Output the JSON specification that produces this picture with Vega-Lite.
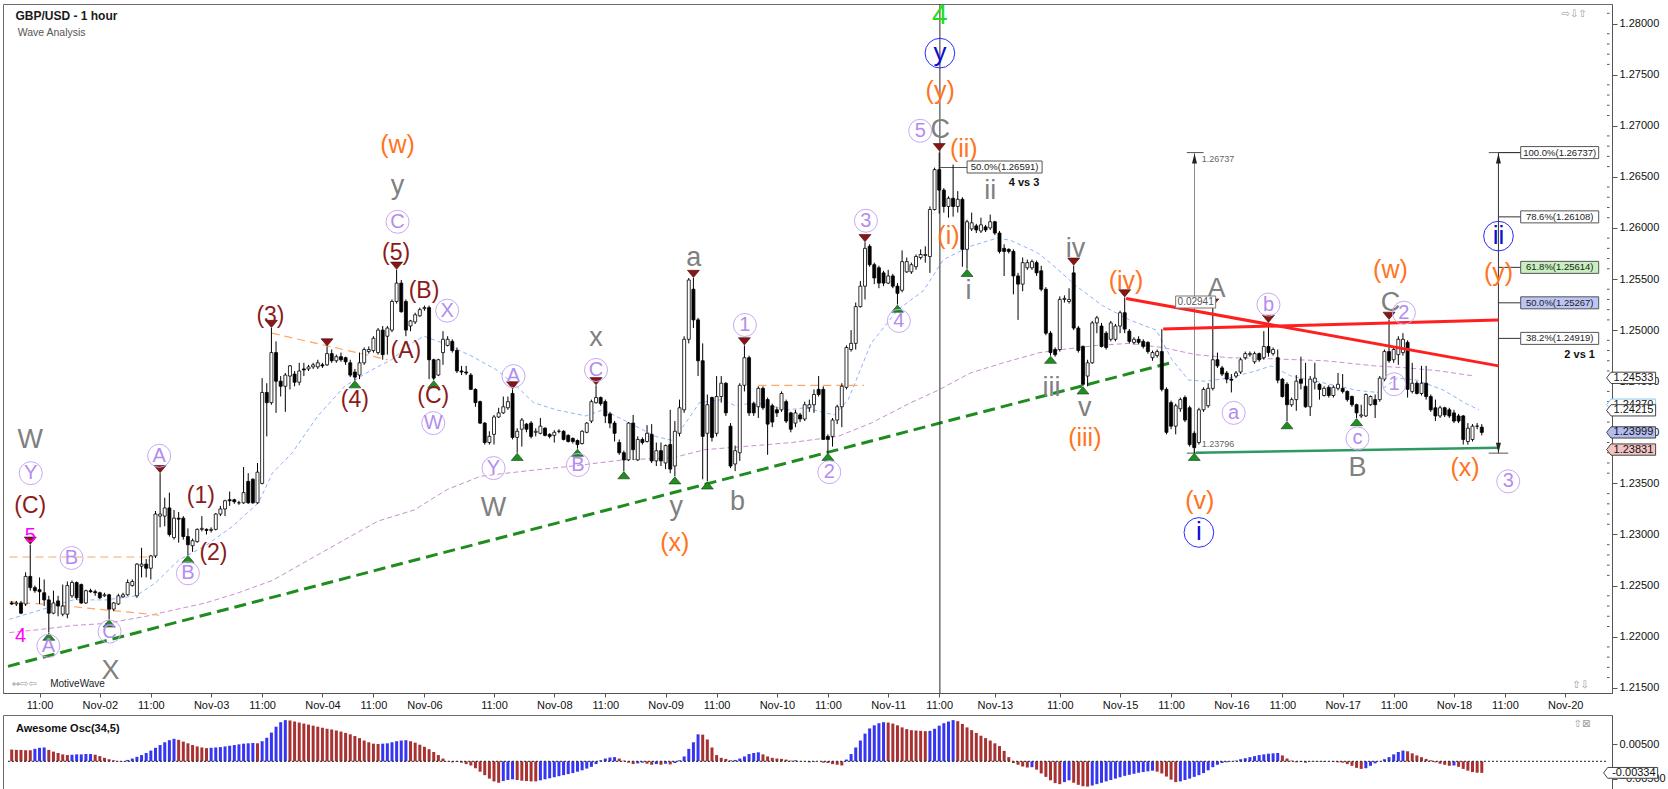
{
"$schema": "https://vega.github.io/schema/vega-lite/v6.json",
"padding": {"left": 1, "top": 1, "right": 0, "bottom": 0},
"background": "white",
"config": {"font": "Liberation Sans", "view": {"stroke": "#6b6b6b"}, "axis": {"labelFont": "Liberation Sans"}},
"datasets": {
"bars": [
{"i":1,"o":1.2233,"h":1.2235,"l":1.2231,"c":1.2232,"ao":0.0034,"u":0},
{"i":2,"o":1.2232,"h":1.2235,"l":1.2230,"c":1.2233,"ao":0.0033,"u":0},
{"i":3,"o":1.2233,"h":1.2235,"l":1.2222,"c":1.2223,"ao":0.0033,"u":0},
{"i":4,"o":1.2232,"h":1.2263,"l":1.2230,"c":1.2259,"ao":0.0032,"u":0},
{"i":5,"o":1.2259,"h":1.2290,"l":1.2245,"c":1.2248,"ao":0.0032,"u":0},
{"i":6,"o":1.2248,"h":1.2250,"l":1.2243,"c":1.2245,"ao":0.0036,"u":1},
{"i":7,"o":1.2246,"h":1.2258,"l":1.2232,"c":1.2244,"ao":0.0039,"u":1},
{"i":8,"o":1.2243,"h":1.2256,"l":1.2230,"c":1.2236,"ao":0.0040,"u":1},
{"i":9,"o":1.2236,"h":1.2240,"l":1.2204,"c":1.2223,"ao":0.0033,"u":0},
{"i":10,"o":1.2223,"h":1.2245,"l":1.2222,"c":1.2233,"ao":0.0028,"u":0},
{"i":11,"o":1.2235,"h":1.2240,"l":1.2220,"c":1.2230,"ao":0.0024,"u":0},
{"i":12,"o":1.2222,"h":1.2251,"l":1.2220,"c":1.2230,"ao":0.0020,"u":0},
{"i":13,"o":1.2222,"h":1.2254,"l":1.2218,"c":1.2250,"ao":0.0018,"u":0},
{"i":14,"o":1.2240,"h":1.2255,"l":1.2238,"c":1.2253,"ao":0.0019,"u":1},
{"i":15,"o":1.2253,"h":1.2254,"l":1.2236,"c":1.2238,"ao":0.0020,"u":1},
{"i":16,"o":1.2251,"h":1.2252,"l":1.2232,"c":1.2233,"ao":0.0020,"u":1},
{"i":17,"o":1.2233,"h":1.2246,"l":1.2232,"c":1.2245,"ao":0.0021,"u":1},
{"i":18,"o":1.2245,"h":1.2247,"l":1.2243,"c":1.2244,"ao":0.0021,"u":1},
{"i":19,"o":1.2244,"h":1.2246,"l":1.2240,"c":1.2243,"ao":0.0019,"u":0},
{"i":20,"o":1.2243,"h":1.2244,"l":1.2237,"c":1.2238,"ao":0.0015,"u":0},
{"i":21,"o":1.2240,"h":1.2243,"l":1.2239,"c":1.2241,"ao":0.0010,"u":0},
{"i":22,"o":1.2241,"h":1.2242,"l":1.2217,"c":1.2227,"ao":0.0006,"u":0},
{"i":23,"o":1.2227,"h":1.2234,"l":1.2225,"c":1.2233,"ao":0.0003,"u":0},
{"i":24,"o":1.2232,"h":1.2242,"l":1.2231,"c":1.2240,"ao":0.0001,"u":0},
{"i":25,"o":1.2239,"h":1.2243,"l":1.2238,"c":1.2241,"ao":-0.0001,"u":0},
{"i":26,"o":1.2241,"h":1.2256,"l":1.2240,"c":1.2253,"ao":0.0004,"u":1},
{"i":27,"o":1.2250,"h":1.2256,"l":1.2249,"c":1.2254,"ao":0.0008,"u":1},
{"i":28,"o":1.2240,"h":1.2272,"l":1.2238,"c":1.2271,"ao":0.0013,"u":1},
{"i":29,"o":1.2269,"h":1.2287,"l":1.2258,"c":1.2271,"ao":0.0018,"u":1},
{"i":30,"o":1.2271,"h":1.2276,"l":1.2258,"c":1.2267,"ao":0.0024,"u":1},
{"i":31,"o":1.2267,"h":1.2280,"l":1.2256,"c":1.2279,"ao":0.0031,"u":1},
{"i":32,"o":1.2279,"h":1.2323,"l":1.2277,"c":1.2320,"ao":0.0039,"u":1},
{"i":33,"o":1.2318,"h":1.2360,"l":1.2307,"c":1.2320,"ao":0.0047,"u":1},
{"i":34,"o":1.2318,"h":1.2336,"l":1.2308,"c":1.2326,"ao":0.0055,"u":1},
{"i":35,"o":1.2326,"h":1.2341,"l":1.2298,"c":1.2300,"ao":0.0061,"u":1},
{"i":36,"o":1.2297,"h":1.2324,"l":1.2295,"c":1.2316,"ao":0.0065,"u":1},
{"i":37,"o":1.2316,"h":1.2322,"l":1.2292,"c":1.2315,"ao":0.0062,"u":0},
{"i":38,"o":1.2316,"h":1.2318,"l":1.2295,"c":1.2298,"ao":0.0057,"u":0},
{"i":39,"o":1.2298,"h":1.2306,"l":1.2280,"c":1.2290,"ao":0.0052,"u":0},
{"i":40,"o":1.2289,"h":1.2296,"l":1.2283,"c":1.2294,"ao":0.0047,"u":0},
{"i":41,"o":1.2293,"h":1.2306,"l":1.2292,"c":1.2305,"ao":0.0043,"u":0},
{"i":42,"o":1.2305,"h":1.2318,"l":1.2303,"c":1.2306,"ao":0.0040,"u":0},
{"i":43,"o":1.2305,"h":1.2306,"l":1.2300,"c":1.2304,"ao":0.0038,"u":0},
{"i":44,"o":1.2304,"h":1.2307,"l":1.2302,"c":1.2305,"ao":0.0039,"u":1},
{"i":45,"o":1.2305,"h":1.2321,"l":1.2304,"c":1.2320,"ao":0.0040,"u":1},
{"i":46,"o":1.2320,"h":1.2328,"l":1.2318,"c":1.2325,"ao":0.0041,"u":1},
{"i":47,"o":1.2325,"h":1.2334,"l":1.2318,"c":1.2333,"ao":0.0043,"u":1},
{"i":48,"o":1.2334,"h":1.2342,"l":1.2328,"c":1.2333,"ao":0.0045,"u":1},
{"i":49,"o":1.2334,"h":1.2335,"l":1.2330,"c":1.2332,"ao":0.0047,"u":1},
{"i":50,"o":1.2331,"h":1.2333,"l":1.2329,"c":1.2331,"ao":0.0049,"u":1},
{"i":51,"o":1.2331,"h":1.2366,"l":1.2330,"c":1.2341,"ao":0.0051,"u":1},
{"i":52,"o":1.2352,"h":1.2360,"l":1.2330,"c":1.2331,"ao":0.0052,"u":1},
{"i":53,"o":1.2354,"h":1.2355,"l":1.2330,"c":1.2331,"ao":0.0053,"u":1},
{"i":54,"o":1.2331,"h":1.2370,"l":1.2330,"c":1.2361,"ao":0.0052,"u":0},
{"i":55,"o":1.2350,"h":1.2453,"l":1.2349,"c":1.2439,"ao":0.0058,"u":1},
{"i":56,"o":1.2439,"h":1.2448,"l":1.2396,"c":1.2429,"ao":0.0068,"u":1},
{"i":57,"o":1.2429,"h":1.2502,"l":1.2427,"c":1.2478,"ao":0.0083,"u":1},
{"i":58,"o":1.2478,"h":1.2489,"l":1.2419,"c":1.2450,"ao":0.0100,"u":1},
{"i":59,"o":1.2450,"h":1.2455,"l":1.2435,"c":1.2445,"ao":0.0113,"u":1},
{"i":60,"o":1.2445,"h":1.2458,"l":1.2420,"c":1.2456,"ao":0.0119,"u":1},
{"i":61,"o":1.2455,"h":1.2466,"l":1.2442,"c":1.2465,"ao":0.0118,"u":0},
{"i":62,"o":1.2457,"h":1.2460,"l":1.2445,"c":1.2449,"ao":0.0115,"u":0},
{"i":63,"o":1.2449,"h":1.2468,"l":1.2446,"c":1.2460,"ao":0.0112,"u":0},
{"i":64,"o":1.2462,"h":1.2468,"l":1.2455,"c":1.2461,"ao":0.0109,"u":0},
{"i":65,"o":1.2462,"h":1.2466,"l":1.2460,"c":1.2464,"ao":0.0106,"u":0},
{"i":66,"o":1.2464,"h":1.2468,"l":1.2462,"c":1.2466,"ao":0.0103,"u":0},
{"i":67,"o":1.2464,"h":1.2471,"l":1.2462,"c":1.2468,"ao":0.0100,"u":0},
{"i":68,"o":1.2466,"h":1.2468,"l":1.2463,"c":1.2465,"ao":0.0097,"u":0},
{"i":69,"o":1.2466,"h":1.2484,"l":1.2465,"c":1.2477,"ao":0.0094,"u":0},
{"i":70,"o":1.2477,"h":1.2481,"l":1.2468,"c":1.2470,"ao":0.0092,"u":0},
{"i":71,"o":1.2470,"h":1.2476,"l":1.2468,"c":1.2474,"ao":0.0089,"u":0},
{"i":72,"o":1.2474,"h":1.2478,"l":1.2469,"c":1.2471,"ao":0.0086,"u":0},
{"i":73,"o":1.2473,"h":1.2474,"l":1.2466,"c":1.2469,"ao":0.0082,"u":0},
{"i":74,"o":1.2468,"h":1.2471,"l":1.2454,"c":1.2456,"ao":0.0078,"u":0},
{"i":75,"o":1.2459,"h":1.2462,"l":1.2451,"c":1.2454,"ao":0.0073,"u":0},
{"i":76,"o":1.2456,"h":1.2478,"l":1.2452,"c":1.2468,"ao":0.0067,"u":0},
{"i":77,"o":1.2468,"h":1.2483,"l":1.2466,"c":1.2481,"ao":0.0060,"u":0},
{"i":78,"o":1.2479,"h":1.2484,"l":1.2477,"c":1.2481,"ao":0.0055,"u":0},
{"i":79,"o":1.2480,"h":1.2494,"l":1.2478,"c":1.2492,"ao":0.0051,"u":0},
{"i":80,"o":1.2478,"h":1.2502,"l":1.2476,"c":1.2500,"ao":0.0050,"u":0},
{"i":81,"o":1.2500,"h":1.2504,"l":1.2471,"c":1.2476,"ao":0.0051,"u":1},
{"i":82,"o":1.2494,"h":1.2504,"l":1.2476,"c":1.2502,"ao":0.0052,"u":1},
{"i":83,"o":1.2500,"h":1.2530,"l":1.2498,"c":1.2528,"ao":0.0055,"u":1},
{"i":84,"o":1.2528,"h":1.2559,"l":1.2526,"c":1.2546,"ao":0.0058,"u":1},
{"i":85,"o":1.2546,"h":1.2549,"l":1.2517,"c":1.2518,"ao":0.0060,"u":1},
{"i":86,"o":1.2528,"h":1.2530,"l":1.2494,"c":1.2500,"ao":0.0061,"u":1},
{"i":87,"o":1.2504,"h":1.2510,"l":1.2499,"c":1.2509,"ao":0.0058,"u":0},
{"i":88,"o":1.2508,"h":1.2517,"l":1.2506,"c":1.2515,"ao":0.0054,"u":0},
{"i":89,"o":1.2514,"h":1.2522,"l":1.2513,"c":1.2520,"ao":0.0048,"u":0},
{"i":90,"o":1.2521,"h":1.2524,"l":1.2519,"c":1.2522,"ao":0.0042,"u":0},
{"i":91,"o":1.2522,"h":1.2524,"l":1.2452,"c":1.2471,"ao":0.0035,"u":0},
{"i":92,"o":1.2471,"h":1.2472,"l":1.2451,"c":1.2453,"ao":0.0027,"u":0},
{"i":93,"o":1.2456,"h":1.2472,"l":1.2455,"c":1.2471,"ao":0.0018,"u":0},
{"i":94,"o":1.2478,"h":1.2499,"l":1.2466,"c":1.2491,"ao":0.0008,"u":0},
{"i":95,"o":1.2485,"h":1.2494,"l":1.2484,"c":1.2491,"ao":0.0001,"u":0},
{"i":96,"o":1.2489,"h":1.2491,"l":1.2478,"c":1.2480,"ao":-0.0003,"u":0},
{"i":97,"o":1.2480,"h":1.2483,"l":1.2458,"c":1.2460,"ao":-0.0002,"u":1},
{"i":98,"o":1.2460,"h":1.2465,"l":1.2456,"c":1.2459,"ao":-0.0004,"u":0},
{"i":99,"o":1.2459,"h":1.2465,"l":1.2456,"c":1.2458,"ao":-0.0008,"u":0},
{"i":100,"o":1.2456,"h":1.2458,"l":1.2442,"c":1.2442,"ao":-0.0012,"u":0},
{"i":101,"o":1.2442,"h":1.2443,"l":1.2425,"c":1.2429,"ao":-0.0020,"u":0},
{"i":102,"o":1.2430,"h":1.2431,"l":1.2408,"c":1.2409,"ao":-0.0030,"u":0},
{"i":103,"o":1.2409,"h":1.2410,"l":1.2388,"c":1.2390,"ao":-0.0040,"u":0},
{"i":104,"o":1.2390,"h":1.2401,"l":1.2388,"c":1.2396,"ao":-0.0050,"u":0},
{"i":105,"o":1.2398,"h":1.2417,"l":1.2388,"c":1.2415,"ao":-0.0058,"u":0},
{"i":106,"o":1.2415,"h":1.2424,"l":1.2414,"c":1.2419,"ao":-0.0062,"u":0},
{"i":107,"o":1.2419,"h":1.2435,"l":1.2418,"c":1.2425,"ao":-0.0057,"u":1},
{"i":108,"o":1.2424,"h":1.2435,"l":1.2422,"c":1.2430,"ao":-0.0054,"u":1},
{"i":109,"o":1.2438,"h":1.2442,"l":1.2393,"c":1.2395,"ao":-0.0052,"u":1},
{"i":110,"o":1.2395,"h":1.2404,"l":1.2380,"c":1.2401,"ao":-0.0054,"u":0},
{"i":111,"o":1.2403,"h":1.2414,"l":1.2386,"c":1.2412,"ao":-0.0056,"u":0},
{"i":112,"o":1.2408,"h":1.2409,"l":1.2400,"c":1.2403,"ao":-0.0057,"u":0},
{"i":113,"o":1.2409,"h":1.2411,"l":1.2394,"c":1.2396,"ao":-0.0058,"u":0},
{"i":114,"o":1.2400,"h":1.2404,"l":1.2396,"c":1.2401,"ao":-0.0058,"u":0},
{"i":115,"o":1.2399,"h":1.2414,"l":1.2398,"c":1.2406,"ao":-0.0055,"u":1},
{"i":116,"o":1.2404,"h":1.2405,"l":1.2396,"c":1.2397,"ao":-0.0052,"u":1},
{"i":117,"o":1.2398,"h":1.2399,"l":1.2394,"c":1.2396,"ao":-0.0049,"u":1},
{"i":118,"o":1.2397,"h":1.2402,"l":1.2390,"c":1.2400,"ao":-0.0046,"u":1},
{"i":119,"o":1.2401,"h":1.2403,"l":1.2399,"c":1.2401,"ao":-0.0043,"u":1},
{"i":120,"o":1.2401,"h":1.2402,"l":1.2392,"c":1.2393,"ao":-0.0040,"u":1},
{"i":121,"o":1.2397,"h":1.2398,"l":1.2390,"c":1.2391,"ao":-0.0037,"u":1},
{"i":122,"o":1.2394,"h":1.2395,"l":1.2389,"c":1.2391,"ao":-0.0034,"u":1},
{"i":123,"o":1.2392,"h":1.2393,"l":1.2384,"c":1.2388,"ao":-0.0030,"u":1},
{"i":124,"o":1.2389,"h":1.2402,"l":1.2388,"c":1.2401,"ao":-0.0026,"u":1},
{"i":125,"o":1.2400,"h":1.2410,"l":1.2399,"c":1.2409,"ao":-0.0021,"u":1},
{"i":126,"o":1.2411,"h":1.2432,"l":1.2409,"c":1.2430,"ao":-0.0016,"u":1},
{"i":127,"o":1.2429,"h":1.2446,"l":1.2428,"c":1.2434,"ao":-0.0008,"u":1},
{"i":128,"o":1.2434,"h":1.2435,"l":1.2426,"c":1.2428,"ao":0.0003,"u":1},
{"i":129,"o":1.2430,"h":1.2432,"l":1.2409,"c":1.2416,"ao":0.0008,"u":1},
{"i":130,"o":1.2418,"h":1.2420,"l":1.2404,"c":1.2409,"ao":0.0011,"u":1},
{"i":131,"o":1.2409,"h":1.2411,"l":1.2391,"c":1.2399,"ao":0.0012,"u":1},
{"i":132,"o":1.2390,"h":1.2393,"l":1.2378,"c":1.2380,"ao":0.0008,"u":0},
{"i":133,"o":1.2380,"h":1.2382,"l":1.2362,"c":1.2373,"ao":0.0002,"u":0},
{"i":134,"o":1.2373,"h":1.2410,"l":1.2372,"c":1.2409,"ao":-0.0004,"u":0},
{"i":135,"o":1.2409,"h":1.2417,"l":1.2373,"c":1.2383,"ao":-0.0008,"u":0},
{"i":136,"o":1.2373,"h":1.2396,"l":1.2372,"c":1.2393,"ao":-0.0006,"u":1},
{"i":137,"o":1.2393,"h":1.2395,"l":1.2388,"c":1.2390,"ao":-0.0004,"u":1},
{"i":138,"o":1.2391,"h":1.2407,"l":1.2390,"c":1.2399,"ao":-0.0007,"u":0},
{"i":139,"o":1.2398,"h":1.2408,"l":1.2370,"c":1.2372,"ao":-0.0010,"u":0},
{"i":140,"o":1.2372,"h":1.2390,"l":1.2367,"c":1.2382,"ao":-0.0008,"u":1},
{"i":141,"o":1.2382,"h":1.2390,"l":1.2367,"c":1.2372,"ao":-0.0010,"u":0},
{"i":142,"o":1.2370,"h":1.2388,"l":1.2364,"c":1.2387,"ao":-0.0007,"u":1},
{"i":143,"o":1.2388,"h":1.2422,"l":1.2360,"c":1.2364,"ao":-0.0009,"u":0},
{"i":144,"o":1.2367,"h":1.2411,"l":1.2357,"c":1.2401,"ao":-0.0005,"u":1},
{"i":145,"o":1.2399,"h":1.2432,"l":1.2396,"c":1.2424,"ao":0.0003,"u":1},
{"i":146,"o":1.2422,"h":1.2494,"l":1.2419,"c":1.2491,"ao":0.0014,"u":1},
{"i":147,"o":1.2491,"h":1.2551,"l":1.2487,"c":1.2549,"ao":0.0036,"u":1},
{"i":148,"o":1.2540,"h":1.2551,"l":1.2502,"c":1.2510,"ao":0.0055,"u":1},
{"i":149,"o":1.2510,"h":1.2512,"l":1.2455,"c":1.2470,"ao":0.0078,"u":1},
{"i":150,"o":1.2470,"h":1.2487,"l":1.2354,"c":1.2396,"ao":0.0077,"u":0},
{"i":151,"o":1.2399,"h":1.2437,"l":1.2352,"c":1.2427,"ao":0.0063,"u":0},
{"i":152,"o":1.2434,"h":1.2435,"l":1.2391,"c":1.2395,"ao":0.0040,"u":0},
{"i":153,"o":1.2399,"h":1.2455,"l":1.2396,"c":1.2435,"ao":0.0018,"u":0},
{"i":154,"o":1.2435,"h":1.2455,"l":1.2429,"c":1.2448,"ao":0.0010,"u":0},
{"i":155,"o":1.2448,"h":1.2449,"l":1.2416,"c":1.2419,"ao":0.0007,"u":0},
{"i":156,"o":1.2406,"h":1.2409,"l":1.2365,"c":1.2367,"ao":0.0003,"u":0},
{"i":157,"o":1.2369,"h":1.2387,"l":1.2362,"c":1.2382,"ao":0.0004,"u":1},
{"i":158,"o":1.2380,"h":1.2448,"l":1.2372,"c":1.2446,"ao":0.0008,"u":1},
{"i":159,"o":1.2446,"h":1.2485,"l":1.2440,"c":1.2473,"ao":0.0014,"u":1},
{"i":160,"o":1.2473,"h":1.2475,"l":1.2416,"c":1.2419,"ao":0.0021,"u":1},
{"i":161,"o":1.2428,"h":1.2430,"l":1.2416,"c":1.2419,"ao":0.0024,"u":1},
{"i":162,"o":1.2425,"h":1.2445,"l":1.2414,"c":1.2443,"ao":0.0026,"u":1},
{"i":163,"o":1.2443,"h":1.2445,"l":1.2422,"c":1.2424,"ao":0.0020,"u":0},
{"i":164,"o":1.2432,"h":1.2434,"l":1.2378,"c":1.2408,"ao":0.0014,"u":0},
{"i":165,"o":1.2426,"h":1.2428,"l":1.2405,"c":1.2410,"ao":0.0010,"u":0},
{"i":166,"o":1.2422,"h":1.2425,"l":1.2415,"c":1.2419,"ao":0.0008,"u":0},
{"i":167,"o":1.2422,"h":1.2440,"l":1.2420,"c":1.2438,"ao":0.0007,"u":0},
{"i":168,"o":1.2430,"h":1.2432,"l":1.2409,"c":1.2411,"ao":0.0005,"u":0},
{"i":169,"o":1.2419,"h":1.2420,"l":1.2400,"c":1.2403,"ao":0.0002,"u":0},
{"i":170,"o":1.2409,"h":1.2422,"l":1.2405,"c":1.2419,"ao":0.0003,"u":1},
{"i":171,"o":1.2417,"h":1.2419,"l":1.2410,"c":1.2413,"ao":0.0001,"u":0},
{"i":172,"o":1.2413,"h":1.2430,"l":1.2411,"c":1.2427,"ao":-0.0001,"u":0},
{"i":173,"o":1.2424,"h":1.2432,"l":1.2420,"c":1.2427,"ao":-0.0003,"u":0},
{"i":174,"o":1.2427,"h":1.2442,"l":1.2419,"c":1.2437,"ao":-0.0002,"u":1},
{"i":175,"o":1.2442,"h":1.2455,"l":1.2435,"c":1.2437,"ao":0.0000,"u":1},
{"i":176,"o":1.2442,"h":1.2445,"l":1.2393,"c":1.2393,"ao":-0.0004,"u":0},
{"i":177,"o":1.2396,"h":1.2398,"l":1.2380,"c":1.2393,"ao":-0.0005,"u":0},
{"i":178,"o":1.2396,"h":1.2414,"l":1.2386,"c":1.2412,"ao":-0.0008,"u":0},
{"i":179,"o":1.2412,"h":1.2427,"l":1.2408,"c":1.2425,"ao":-0.0010,"u":0},
{"i":180,"o":1.2425,"h":1.2448,"l":1.2405,"c":1.2445,"ao":-0.0012,"u":0},
{"i":181,"o":1.2444,"h":1.2485,"l":1.2442,"c":1.2483,"ao":0.0005,"u":1},
{"i":182,"o":1.2481,"h":1.2500,"l":1.2479,"c":1.2487,"ao":0.0021,"u":1},
{"i":183,"o":1.2487,"h":1.2527,"l":1.2481,"c":1.2523,"ao":0.0040,"u":1},
{"i":184,"o":1.2523,"h":1.2548,"l":1.2522,"c":1.2543,"ao":0.0060,"u":1},
{"i":185,"o":1.2543,"h":1.2586,"l":1.2530,"c":1.2580,"ao":0.0080,"u":1},
{"i":186,"o":1.2582,"h":1.2584,"l":1.2562,"c":1.2564,"ao":0.0095,"u":1},
{"i":187,"o":1.2564,"h":1.2566,"l":1.2545,"c":1.2551,"ao":0.0104,"u":1},
{"i":188,"o":1.2561,"h":1.2563,"l":1.2541,"c":1.2546,"ao":0.0110,"u":1},
{"i":189,"o":1.2556,"h":1.2558,"l":1.2543,"c":1.2546,"ao":0.0113,"u":1},
{"i":190,"o":1.2546,"h":1.2559,"l":1.2545,"c":1.2553,"ao":0.0112,"u":0},
{"i":191,"o":1.2553,"h":1.2555,"l":1.2541,"c":1.2543,"ao":0.0109,"u":0},
{"i":192,"o":1.2543,"h":1.2546,"l":1.2525,"c":1.2536,"ao":0.0104,"u":0},
{"i":193,"o":1.2539,"h":1.2578,"l":1.2537,"c":1.2567,"ao":0.0098,"u":0},
{"i":194,"o":1.2557,"h":1.2571,"l":1.2556,"c":1.2567,"ao":0.0093,"u":0},
{"i":195,"o":1.2557,"h":1.2566,"l":1.2555,"c":1.2564,"ao":0.0090,"u":0},
{"i":196,"o":1.2562,"h":1.2574,"l":1.2559,"c":1.2572,"ao":0.0089,"u":0},
{"i":197,"o":1.2571,"h":1.2579,"l":1.2569,"c":1.2574,"ao":0.0088,"u":0},
{"i":198,"o":1.2573,"h":1.2582,"l":1.2566,"c":1.2574,"ao":0.0087,"u":0},
{"i":199,"o":1.2572,"h":1.2621,"l":1.2556,"c":1.2618,"ao":0.0088,"u":1},
{"i":200,"o":1.2618,"h":1.2659,"l":1.2617,"c":1.2657,"ao":0.0094,"u":1},
{"i":201,"o":1.2657,"h":1.26737,"l":1.2614,"c":1.2637,"ao":0.0103,"u":1},
{"i":202,"o":1.2637,"h":1.2639,"l":1.2615,"c":1.2621,"ao":0.0110,"u":1},
{"i":203,"o":1.2621,"h":1.2631,"l":1.2610,"c":1.2629,"ao":0.0115,"u":1},
{"i":204,"o":1.2629,"h":1.2662,"l":1.2611,"c":1.2621,"ao":0.0119,"u":1},
{"i":205,"o":1.2621,"h":1.2636,"l":1.2615,"c":1.2628,"ao":0.0116,"u":0},
{"i":206,"o":1.2628,"h":1.2630,"l":1.2562,"c":1.2579,"ao":0.0108,"u":0},
{"i":207,"o":1.2579,"h":1.2608,"l":1.2560,"c":1.2606,"ao":0.0098,"u":0},
{"i":208,"o":1.2599,"h":1.2615,"l":1.2597,"c":1.2605,"ao":0.0090,"u":0},
{"i":209,"o":1.2602,"h":1.2604,"l":1.2595,"c":1.2598,"ao":0.0082,"u":0},
{"i":210,"o":1.2597,"h":1.2610,"l":1.2595,"c":1.2603,"ao":0.0074,"u":0},
{"i":211,"o":1.2601,"h":1.2603,"l":1.2596,"c":1.2598,"ao":0.0067,"u":0},
{"i":212,"o":1.2600,"h":1.2613,"l":1.2598,"c":1.2606,"ao":0.0060,"u":0},
{"i":213,"o":1.2606,"h":1.2607,"l":1.2593,"c":1.2595,"ao":0.0052,"u":0},
{"i":214,"o":1.2595,"h":1.2597,"l":1.2575,"c":1.2577,"ao":0.0044,"u":0},
{"i":215,"o":1.2580,"h":1.2584,"l":1.2553,"c":1.2577,"ao":0.0030,"u":0},
{"i":216,"o":1.2579,"h":1.2580,"l":1.2575,"c":1.2577,"ao":0.0012,"u":0},
{"i":217,"o":1.2577,"h":1.2579,"l":1.2535,"c":1.2553,"ao":-0.0005,"u":0},
{"i":218,"o":1.2553,"h":1.2556,"l":1.2510,"c":1.2545,"ao":-0.0010,"u":0},
{"i":219,"o":1.2545,"h":1.2571,"l":1.2538,"c":1.2566,"ao":-0.0015,"u":0},
{"i":220,"o":1.2561,"h":1.2569,"l":1.2559,"c":1.2566,"ao":-0.0018,"u":0},
{"i":221,"o":1.2561,"h":1.2569,"l":1.2559,"c":1.2567,"ao":-0.0017,"u":1},
{"i":222,"o":1.2566,"h":1.2568,"l":1.2553,"c":1.2556,"ao":-0.0024,"u":0},
{"i":223,"o":1.2558,"h":1.2563,"l":1.2538,"c":1.2540,"ao":-0.0035,"u":0},
{"i":224,"o":1.2540,"h":1.2542,"l":1.2495,"c":1.2497,"ao":-0.0045,"u":0},
{"i":225,"o":1.2497,"h":1.2499,"l":1.2475,"c":1.2478,"ao":-0.0055,"u":0},
{"i":226,"o":1.2481,"h":1.2483,"l":1.2474,"c":1.2476,"ao":-0.0063,"u":0},
{"i":227,"o":1.2481,"h":1.2533,"l":1.2479,"c":1.2530,"ao":-0.0066,"u":0},
{"i":228,"o":1.2530,"h":1.2534,"l":1.2527,"c":1.2531,"ao":-0.0060,"u":1},
{"i":229,"o":1.2528,"h":1.2541,"l":1.2526,"c":1.2530,"ao":-0.0055,"u":1},
{"i":230,"o":1.2556,"h":1.2563,"l":1.2500,"c":1.2502,"ao":-0.0062,"u":0},
{"i":231,"o":1.2502,"h":1.2504,"l":1.2478,"c":1.2480,"ao":-0.0068,"u":0},
{"i":232,"o":1.2484,"h":1.2485,"l":1.2445,"c":1.2447,"ao":-0.0072,"u":0},
{"i":233,"o":1.2455,"h":1.2471,"l":1.2445,"c":1.2468,"ao":-0.0073,"u":0},
{"i":234,"o":1.2468,"h":1.2509,"l":1.2467,"c":1.2507,"ao":-0.0070,"u":1},
{"i":235,"o":1.2507,"h":1.2514,"l":1.2497,"c":1.2512,"ao":-0.0066,"u":1},
{"i":236,"o":1.2504,"h":1.2507,"l":1.2483,"c":1.2484,"ao":-0.0062,"u":1},
{"i":237,"o":1.2497,"h":1.2499,"l":1.2481,"c":1.2483,"ao":-0.0058,"u":1},
{"i":238,"o":1.2491,"h":1.2509,"l":1.2489,"c":1.2507,"ao":-0.0054,"u":1},
{"i":239,"o":1.2491,"h":1.2506,"l":1.2489,"c":1.2504,"ao":-0.0050,"u":1},
{"i":240,"o":1.2504,"h":1.2519,"l":1.2497,"c":1.2517,"ao":-0.0046,"u":1},
{"i":241,"o":1.2517,"h":1.2532,"l":1.2497,"c":1.2501,"ao":-0.0042,"u":1},
{"i":242,"o":1.2499,"h":1.2501,"l":1.2487,"c":1.2489,"ao":-0.0039,"u":1},
{"i":243,"o":1.2488,"h":1.2493,"l":1.2486,"c":1.2491,"ao":-0.0036,"u":1},
{"i":244,"o":1.2491,"h":1.2494,"l":1.2486,"c":1.2488,"ao":-0.0033,"u":1},
{"i":245,"o":1.2489,"h":1.2491,"l":1.2482,"c":1.2484,"ao":-0.0031,"u":1},
{"i":246,"o":1.2488,"h":1.2489,"l":1.2477,"c":1.2479,"ao":-0.0029,"u":1},
{"i":247,"o":1.2473,"h":1.2480,"l":1.2470,"c":1.2478,"ao":-0.0027,"u":1},
{"i":248,"o":1.2475,"h":1.2481,"l":1.2473,"c":1.2479,"ao":-0.0030,"u":0},
{"i":249,"o":1.2479,"h":1.2501,"l":1.2440,"c":1.2442,"ao":-0.0035,"u":0},
{"i":250,"o":1.2442,"h":1.2444,"l":1.2398,"c":1.2400,"ao":-0.0044,"u":0},
{"i":251,"o":1.2429,"h":1.2431,"l":1.2403,"c":1.2406,"ao":-0.0053,"u":0},
{"i":252,"o":1.2406,"h":1.2428,"l":1.2398,"c":1.2426,"ao":-0.0060,"u":0},
{"i":253,"o":1.2423,"h":1.2434,"l":1.2420,"c":1.2432,"ao":-0.0058,"u":1},
{"i":254,"o":1.2434,"h":1.2436,"l":1.2410,"c":1.2412,"ao":-0.0054,"u":1},
{"i":255,"o":1.2424,"h":1.2426,"l":1.2386,"c":1.2388,"ao":-0.0050,"u":1},
{"i":256,"o":1.2399,"h":1.2401,"l":1.23796,"c":1.2385,"ao":-0.0045,"u":1},
{"i":257,"o":1.2390,"h":1.2424,"l":1.2388,"c":1.2422,"ao":-0.0040,"u":1},
{"i":258,"o":1.2422,"h":1.2444,"l":1.2420,"c":1.2442,"ao":-0.0034,"u":1},
{"i":259,"o":1.2426,"h":1.2448,"l":1.2424,"c":1.2443,"ao":-0.0026,"u":1},
{"i":260,"o":1.2443,"h":1.2523,"l":1.2441,"c":1.2471,"ao":-0.0017,"u":1},
{"i":261,"o":1.2471,"h":1.2478,"l":1.2463,"c":1.2465,"ao":-0.0010,"u":1},
{"i":262,"o":1.2463,"h":1.2465,"l":1.2455,"c":1.2457,"ao":-0.0005,"u":1},
{"i":263,"o":1.2458,"h":1.2460,"l":1.2448,"c":1.2452,"ao":-0.0003,"u":1},
{"i":264,"o":1.2452,"h":1.2457,"l":1.2439,"c":1.2451,"ao":-0.0001,"u":1},
{"i":265,"o":1.2455,"h":1.2460,"l":1.2453,"c":1.2458,"ao":0.0002,"u":1},
{"i":266,"o":1.2459,"h":1.2473,"l":1.2457,"c":1.2471,"ao":0.0006,"u":1},
{"i":267,"o":1.2473,"h":1.2479,"l":1.2471,"c":1.2477,"ao":0.0009,"u":1},
{"i":268,"o":1.2476,"h":1.2479,"l":1.2474,"c":1.2477,"ao":0.0012,"u":1},
{"i":269,"o":1.2469,"h":1.2479,"l":1.2467,"c":1.2477,"ao":0.0015,"u":1},
{"i":270,"o":1.2477,"h":1.2478,"l":1.2469,"c":1.2471,"ao":0.0018,"u":1},
{"i":271,"o":1.2473,"h":1.2499,"l":1.2471,"c":1.2484,"ao":0.0020,"u":1},
{"i":272,"o":1.2484,"h":1.2507,"l":1.2474,"c":1.2478,"ao":0.0022,"u":1},
{"i":273,"o":1.2477,"h":1.2483,"l":1.2475,"c":1.2481,"ao":0.0023,"u":1},
{"i":274,"o":1.2473,"h":1.2481,"l":1.2448,"c":1.2451,"ao":0.0024,"u":1},
{"i":275,"o":1.2452,"h":1.2453,"l":1.2434,"c":1.2435,"ao":0.0017,"u":0},
{"i":276,"o":1.2447,"h":1.2449,"l":1.2411,"c":1.2427,"ao":0.0008,"u":0},
{"i":277,"o":1.2427,"h":1.2434,"l":1.2425,"c":1.2432,"ao":0.0002,"u":0},
{"i":278,"o":1.2432,"h":1.2456,"l":1.2421,"c":1.2450,"ao":-0.0003,"u":0},
{"i":279,"o":1.2452,"h":1.2474,"l":1.2442,"c":1.2448,"ao":-0.0002,"u":1},
{"i":280,"o":1.2445,"h":1.2468,"l":1.2424,"c":1.2425,"ao":-0.0004,"u":0},
{"i":281,"o":1.2425,"h":1.2455,"l":1.2416,"c":1.2452,"ao":-0.0001,"u":1},
{"i":282,"o":1.2449,"h":1.2468,"l":1.2442,"c":1.2453,"ao":0.0001,"u":1},
{"i":283,"o":1.2447,"h":1.2448,"l":1.2432,"c":1.2442,"ao":-0.0001,"u":0},
{"i":284,"o":1.2436,"h":1.2445,"l":1.2435,"c":1.2443,"ao":-0.0002,"u":0},
{"i":285,"o":1.2444,"h":1.2446,"l":1.2434,"c":1.2436,"ao":-0.0001,"u":1},
{"i":286,"o":1.2436,"h":1.2446,"l":1.2434,"c":1.2444,"ao":-0.0002,"u":0},
{"i":287,"o":1.2443,"h":1.2458,"l":1.2441,"c":1.2447,"ao":-0.0003,"u":0},
{"i":288,"o":1.2443,"h":1.2457,"l":1.2438,"c":1.2440,"ao":-0.0004,"u":0},
{"i":289,"o":1.2440,"h":1.2441,"l":1.2430,"c":1.2432,"ao":-0.0008,"u":0},
{"i":290,"o":1.2435,"h":1.2436,"l":1.2425,"c":1.2427,"ao":-0.0013,"u":0},
{"i":291,"o":1.2427,"h":1.2428,"l":1.2414,"c":1.2419,"ao":-0.0019,"u":0},
{"i":292,"o":1.2416,"h":1.2427,"l":1.2414,"c":1.2417,"ao":-0.0022,"u":0},
{"i":293,"o":1.2416,"h":1.2438,"l":1.2415,"c":1.2437,"ao":-0.0020,"u":1},
{"i":294,"o":1.2427,"h":1.2436,"l":1.2426,"c":1.2435,"ao":-0.0013,"u":1},
{"i":295,"o":1.2432,"h":1.2437,"l":1.2414,"c":1.2427,"ao":-0.0006,"u":1},
{"i":296,"o":1.2432,"h":1.2455,"l":1.2430,"c":1.2453,"ao":0.0001,"u":1},
{"i":297,"o":1.2452,"h":1.2481,"l":1.2450,"c":1.2479,"ao":0.0006,"u":1},
{"i":298,"o":1.2479,"h":1.2510,"l":1.2468,"c":1.2470,"ao":0.0012,"u":1},
{"i":299,"o":1.2471,"h":1.2484,"l":1.2468,"c":1.2481,"ao":0.0020,"u":1},
{"i":300,"o":1.2476,"h":1.2494,"l":1.2466,"c":1.2491,"ao":0.0027,"u":1},
{"i":301,"o":1.2478,"h":1.2497,"l":1.2475,"c":1.2491,"ao":0.0031,"u":1},
{"i":302,"o":1.2488,"h":1.2490,"l":1.2434,"c":1.2442,"ao":0.0029,"u":0},
{"i":303,"o":1.2440,"h":1.2468,"l":1.2438,"c":1.2448,"ao":0.0023,"u":0},
{"i":304,"o":1.2448,"h":1.2450,"l":1.2437,"c":1.2438,"ao":0.0017,"u":0},
{"i":305,"o":1.2438,"h":1.2465,"l":1.2436,"c":1.2448,"ao":0.0012,"u":0},
{"i":306,"o":1.2448,"h":1.2465,"l":1.2432,"c":1.2435,"ao":0.0007,"u":0},
{"i":307,"o":1.2435,"h":1.2437,"l":1.2420,"c":1.2422,"ao":0.0003,"u":0},
{"i":308,"o":1.2424,"h":1.2432,"l":1.2411,"c":1.2416,"ao":-0.0003,"u":0},
{"i":309,"o":1.2416,"h":1.2426,"l":1.2414,"c":1.2424,"ao":-0.0007,"u":0},
{"i":310,"o":1.2424,"h":1.2425,"l":1.2415,"c":1.2417,"ao":-0.0010,"u":0},
{"i":311,"o":1.2422,"h":1.2424,"l":1.2414,"c":1.2416,"ao":-0.0013,"u":0},
{"i":312,"o":1.2419,"h":1.2422,"l":1.2409,"c":1.2411,"ao":-0.0012,"u":1},
{"i":313,"o":1.2416,"h":1.2418,"l":1.2409,"c":1.2411,"ao":-0.0016,"u":0},
{"i":314,"o":1.2416,"h":1.2417,"l":1.2388,"c":1.2393,"ao":-0.0022,"u":0},
{"i":315,"o":1.2391,"h":1.2409,"l":1.2388,"c":1.2404,"ao":-0.0027,"u":0},
{"i":316,"o":1.2393,"h":1.2408,"l":1.2391,"c":1.2406,"ao":-0.0031,"u":0},
{"i":317,"o":1.2406,"h":1.2409,"l":1.2403,"c":1.2406,"ao":-0.0033,"u":0},
{"i":318,"o":1.2405,"h":1.2408,"l":1.2397,"c":1.23999,"ao":-0.00334,"u":0}
],
"fast": [
{"i":0.5,"p":1.2217},{"i":7.1,"p":1.2226},{"i":14.3,"p":1.2236},{"i":21.4,"p":1.2236},{"i":27.8,"p":1.2240},{"i":32.1,"p":1.2253},{"i":37,"p":1.2275},{"i":42.8,"p":1.2289},{"i":48.6,"p":1.2308},{"i":54.2,"p":1.2331},{"i":57.2,"p":1.2360},{"i":61.5,"p":1.2380},{"i":67,"p":1.2416},{"i":72.8,"p":1.2445},{"i":78.6,"p":1.2461},{"i":82.9,"p":1.2471},{"i":87.2,"p":1.2487},{"i":89.9,"p":1.2494},{"i":94.2,"p":1.2487},{"i":100,"p":1.2475},{"i":105.6,"p":1.2461},{"i":109.9,"p":1.2445},{"i":113.5,"p":1.2429},{"i":118.4,"p":1.2422},{"i":124.8,"p":1.2416},{"i":128.5,"p":1.2422},{"i":134.3,"p":1.2409},{"i":139.8,"p":1.2396},{"i":143.5,"p":1.2392},{"i":146.3,"p":1.2409},{"i":149.3,"p":1.2429},{"i":154.2,"p":1.2432},{"i":157,"p":1.2426},{"i":161.3,"p":1.2429},{"i":168.5,"p":1.2422},{"i":172,"p":1.2424},{"i":178.4,"p":1.2417},{"i":181.4,"p":1.2432},{"i":186.3,"p":1.2487},{"i":192.1,"p":1.2520},{"i":197.7,"p":1.2539},{"i":201.9,"p":1.2569},{"i":207.7,"p":1.2582},{"i":213.5,"p":1.2590},{"i":216.3,"p":1.2588},{"i":222.1,"p":1.2576},{"i":224.9,"p":1.2566},{"i":230.6,"p":1.2543},{"i":236.2,"p":1.2524},{"i":242,"p":1.2510},{"i":247.8,"p":1.2500},{"i":251.2,"p":1.2471},{"i":254.8,"p":1.2451},{"i":258.5,"p":1.2450},{"i":263.4,"p":1.2453},{"i":269.2,"p":1.2460},{"i":272.6,"p":1.2465},{"i":276.9,"p":1.2455},{"i":284.2,"p":1.2448},{"i":291.2,"p":1.2441},{"i":295.5,"p":1.2439},{"i":299.8,"p":1.2453},{"i":304.1,"p":1.2451},{"i":309.9,"p":1.2441},{"i":314.2,"p":1.2429},{"i":317.4,"p":1.2422}
],
"slow": [
{"i":0.5,"p":1.2204},{"i":7.1,"p":1.2207},{"i":14.3,"p":1.2211},{"i":21.4,"p":1.2213},{"i":30,"p":1.2220},{"i":35.8,"p":1.2226},{"i":42.8,"p":1.2233},{"i":49.9,"p":1.2243},{"i":57.2,"p":1.2255},{"i":68.5,"p":1.2284},{"i":79.9,"p":1.2313},{"i":87.8,"p":1.2324},{"i":94.9,"p":1.2344},{"i":102.1,"p":1.2357},{"i":113.5,"p":1.2363},{"i":122.1,"p":1.2367},{"i":132.8,"p":1.2373},{"i":143.5,"p":1.2375},{"i":150.5,"p":1.2383},{"i":161.3,"p":1.2387},{"i":169.2,"p":1.2390},{"i":179.2,"p":1.2396},{"i":186.3,"p":1.2409},{"i":194.9,"p":1.2429},{"i":200.7,"p":1.2441},{"i":207.7,"p":1.2458},{"i":214.8,"p":1.2468},{"i":222.7,"p":1.2478},{"i":227.6,"p":1.2481},{"i":234.9,"p":1.2485},{"i":242,"p":1.2487},{"i":249.1,"p":1.2483},{"i":256.3,"p":1.2476},{"i":263.4,"p":1.2473},{"i":272,"p":1.2472},{"i":284.2,"p":1.2470},{"i":294.9,"p":1.2465},{"i":302,"p":1.2463},{"i":309,"p":1.2460},{"i":316.5,"p":1.2455}
],
"ol": [
{"s":"a","i":0.5,"p":1.2278},{"s":"a","i":31.7,"p":1.2278},
{"s":"b","i":0.5,"p":1.2234},{"s":"b","i":10.7,"p":1.2231},{"s":"b","i":32.8,"p":1.2221},
{"s":"c","i":57.1,"p":1.2497},{"s":"c","i":82.1,"p":1.2471},
{"s":"d","i":162,"p":1.2446},{"s":"d","i":184.8,"p":1.2446}
],
"tl": [
{"s":"gd","i":0.2,"p":1.2171},{"s":"gd","i":250.9,"p":1.2468},
{"s":"r1","i":249.3,"p":1.2501},{"s":"r1","i":321.6,"p":1.2510},
{"s":"r2","i":241.3,"p":1.2531},{"s":"r2","i":321.6,"p":1.2465},
{"s":"gs","i":256.3,"p":1.2380},{"s":"gs","i":321.6,"p":1.2385}
],
"lab": [
{"k":"g","t":"W","i":5,"p":1.2392},{"k":"g","t":"X","i":22.3,"p":1.2166},{"k":"g","t":"y","i":84.2,"p":1.2641},{"k":"g","t":"W","i":104.9,"p":1.2326},{"k":"g","t":"x","i":127,"p":1.2492},{"k":"g","t":"a","i":148.1,"p":1.2571},{"k":"g","t":"y","i":144.3,"p":1.2327},{"k":"g","t":"b","i":157.5,"p":1.2332},{"k":"g","t":"C","i":201.2,"p":1.2696},{"k":"g","t":"ii","i":212,"p":1.2636},{"k":"g","t":"i","i":207.3,"p":1.2538},{"k":"g","t":"iv","i":230.4,"p":1.2579},{"k":"g","t":"iii","i":225.2,"p":1.2443},{"k":"g","t":"v","i":232.4,"p":1.2424},{"k":"g","t":"A","i":260.8,"p":1.2540},{"k":"g","t":"B","i":291.2,"p":1.2365},{"k":"g","t":"C","i":298.3,"p":1.2527},
{"k":"r","t":"(C)","i":5,"p":1.2328},{"k":"r","t":"(1)","i":41.8,"p":1.2338},{"k":"r","t":"(2)","i":44.5,"p":1.2282},{"k":"r","t":"(3)","i":56.8,"p":1.2514},{"k":"r","t":"(4)","i":75,"p":1.2432},{"k":"r","t":"(5)","i":83.9,"p":1.2575},{"k":"r","t":"(A)","i":86,"p":1.2480},{"k":"r","t":"(B)","i":89.9,"p":1.2538},{"k":"r","t":"(C)","i":91.9,"p":1.2436},
{"k":"o","t":"(w)","i":84.2,"p":1.2681},{"k":"o","t":"(x)","i":144,"p":1.2292},{"k":"o","t":"(y)","i":201.2,"p":1.2734},{"k":"o","t":"(ii)","i":206.3,"p":1.2677},{"k":"o","t":"(i)","i":203,"p":1.2592},{"k":"o","t":"(iv)","i":241.3,"p":1.2548},{"k":"o","t":"(iii)","i":232.4,"p":1.2394},{"k":"o","t":"(v)","i":257.2,"p":1.2333},{"k":"o","t":"(w)","i":298.3,"p":1.2559},{"k":"o","t":"(x)","i":314.4,"p":1.2365},{"k":"o","t":"(y)","i":321.6,"p":1.2556},
{"k":"p","t":"Y","i":5.1,"p":1.2360},{"k":"p","t":"A","i":8.9,"p":1.2191},{"k":"p","t":"B","i":13.9,"p":1.2277},{"k":"p","t":"C","i":22.1,"p":1.2205},{"k":"p","t":"A","i":32.8,"p":1.2377},{"k":"p","t":"B","i":39,"p":1.2262},{"k":"p","t":"C","i":84.2,"p":1.2606},{"k":"p","t":"X","i":94.9,"p":1.2519},{"k":"p","t":"W","i":91.9,"p":1.2409},{"k":"p","t":"A","i":109.2,"p":1.2455},{"k":"p","t":"Y","i":104.9,"p":1.2365},{"k":"p","t":"B","i":123.1,"p":1.2368},{"k":"p","t":"C","i":127,"p":1.2461},{"k":"p","t":"1","i":159.1,"p":1.2505},{"k":"p","t":"2","i":177.3,"p":1.2361},{"k":"p","t":"3","i":185.2,"p":1.2607},{"k":"p","t":"4","i":192.3,"p":1.2509},{"k":"p","t":"5","i":196.9,"p":1.2695},{"k":"p","t":"a","i":264.5,"p":1.2419},{"k":"p","t":"b","i":272,"p":1.2525},{"k":"p","t":"c","i":291.2,"p":1.2394},{"k":"p","t":"2","i":301.2,"p":1.2517},{"k":"p","t":"1","i":299.1,"p":1.2447},{"k":"p","t":"3","i":323.7,"p":1.2352},
{"k":"b","t":"y","i":201.15,"p":1.2771},{"k":"b","t":"i","i":257,"p":1.2302},{"k":"b","t":"ii","i":321.6,"p":1.2592},
{"k":"m","t":"5","i":5,"p":1.2299},{"k":"m","t":"4","i":2.9,"p":1.2201},
{"k":"G","t":"4","i":201.15,"p":1.2807}
],
"tri": [
{"d":"dn","i":5,"p":1.2294},{"d":"dn","i":33,"p":1.2364},{"d":"dn","i":57,"p":1.2506},{"d":"dn","i":69,"p":1.2488},{"d":"dn","i":84,"p":1.2563},{"d":"dn","i":109,"p":1.2446},{"d":"dn","i":127,"p":1.2450},{"d":"dn","i":148,"p":1.2555},{"d":"dn","i":159,"p":1.2489},{"d":"dn","i":185,"p":1.2590},{"d":"dn","i":201,"p":1.2679},{"d":"dn","i":230,"p":1.2567},{"d":"dn","i":241,"p":1.2536},{"d":"dn","i":260,"p":1.2527},{"d":"dn","i":272,"p":1.2511},{"d":"dn","i":298,"p":1.2514},
{"d":"up","i":9,"p":1.2200},{"d":"up","i":22,"p":1.2213},{"d":"up","i":39,"p":1.2276},{"d":"up","i":75,"p":1.2447},{"d":"up","i":92,"p":1.2447},{"d":"up","i":110,"p":1.2376},{"d":"up","i":123,"p":1.2380},{"d":"up","i":133,"p":1.2358},{"d":"up","i":144,"p":1.2353},{"d":"up","i":151,"p":1.2348},{"d":"up","i":177,"p":1.2376},{"d":"up","i":192,"p":1.2521},{"d":"up","i":207,"p":1.2556},{"d":"up","i":225,"p":1.2471},{"d":"up","i":232,"p":1.2441},{"d":"up","i":256,"p":1.2376},{"d":"up","i":276,"p":1.2407},{"d":"up","i":291,"p":1.2410}
],
"fib": [
{"t":"100.0%(1.26737)","p":1.26737,"i":334.8,"i0":321.59,"i2":328},{"t":"78.6%(1.26108)","p":1.26108,"i":334.8,"i0":321.59,"i2":328},{"t":"61.8%(1.25614)","p":1.25614,"i":334.8,"i0":321.59,"i2":328},{"t":"50.0%(1.25267)","p":1.25267,"i":334.8,"i0":321.59,"i2":328},{"t":"38.2%(1.24919)","p":1.24919,"i":334.8,"i0":321.59,"i2":328}
],
"tags": [
{"t":"1.24270","p":1.2427,"i":350.2,"it":350.7,"z":0},
{"t":"1.24533","p":1.24533,"i":350.2,"it":350.7,"z":1},{"t":"1.24215","p":1.24215,"i":350.2,"it":350.7,"z":1},{"t":"1.23999","p":1.23999,"i":350.2,"it":350.7,"z":1},{"t":"1.23831","p":1.23831,"i":350.2,"it":350.7,"z":1}
],
"mt": [
{"i":345,"i2":345.55,"p":1.216},{"i":345,"i2":345.55,"p":1.217},{"i":345,"i2":345.55,"p":1.218},{"i":345,"i2":345.55,"p":1.219},
{"i":345,"i2":345.55,"p":1.221},{"i":345,"i2":345.55,"p":1.222},{"i":345,"i2":345.55,"p":1.223},{"i":345,"i2":345.55,"p":1.224},
{"i":345,"i2":345.55,"p":1.226},{"i":345,"i2":345.55,"p":1.227},{"i":345,"i2":345.55,"p":1.228},{"i":345,"i2":345.55,"p":1.229},
{"i":345,"i2":345.55,"p":1.231},{"i":345,"i2":345.55,"p":1.232},{"i":345,"i2":345.55,"p":1.233},{"i":345,"i2":345.55,"p":1.234},
{"i":345,"i2":345.55,"p":1.236},{"i":345,"i2":345.55,"p":1.237},{"i":345,"i2":345.55,"p":1.238},{"i":345,"i2":345.55,"p":1.239},
{"i":345,"i2":345.55,"p":1.241},{"i":345,"i2":345.55,"p":1.242},{"i":345,"i2":345.55,"p":1.243},{"i":345,"i2":345.55,"p":1.244},
{"i":345,"i2":345.55,"p":1.246},{"i":345,"i2":345.55,"p":1.247},{"i":345,"i2":345.55,"p":1.248},{"i":345,"i2":345.55,"p":1.249},
{"i":345,"i2":345.55,"p":1.251},{"i":345,"i2":345.55,"p":1.252},{"i":345,"i2":345.55,"p":1.253},{"i":345,"i2":345.55,"p":1.254},
{"i":345,"i2":345.55,"p":1.256},{"i":345,"i2":345.55,"p":1.257},{"i":345,"i2":345.55,"p":1.258},{"i":345,"i2":345.55,"p":1.259},
{"i":345,"i2":345.55,"p":1.261},{"i":345,"i2":345.55,"p":1.262},{"i":345,"i2":345.55,"p":1.263},{"i":345,"i2":345.55,"p":1.264},
{"i":345,"i2":345.55,"p":1.266},{"i":345,"i2":345.55,"p":1.267},{"i":345,"i2":345.55,"p":1.268},{"i":345,"i2":345.55,"p":1.269},
{"i":345,"i2":345.55,"p":1.271},{"i":345,"i2":345.55,"p":1.272},{"i":345,"i2":345.55,"p":1.273},{"i":345,"i2":345.55,"p":1.274},
{"i":345,"i2":345.55,"p":1.276},{"i":345,"i2":345.55,"p":1.277},{"i":345,"i2":345.55,"p":1.278},{"i":345,"i2":345.55,"p":1.279},
{"i":345,"i2":345.55,"p":1.281}
]
},
"spacing": 3,
"vconcat": [
{
"width": 1609,
"height": 689,
"encoding": {
"x": {"field": "i", "type": "quantitative", "scale": {"domain": [0.2, 345], "nice": false, "zero": false},
 "axis": {"values": [7,20,31,44,55,68,79,90,105,118,129,142,153,166,177,190,201,213,227,240,251,264,275,288,299,312,323,336],
 "labelExpr": "['11:00','Nov-02','11:00','Nov-03','11:00','Nov-04','11:00','Nov-06','11:00','Nov-08','11:00','Nov-09','11:00','Nov-10','11:00','Nov-11','11:00','Nov-13','11:00','Nov-15','11:00','Nov-16','11:00','Nov-17','11:00','Nov-18','11:00','Nov-20'][indexof([7,20,31,44,55,68,79,90,105,118,129,142,153,166,177,190,201,213,227,240,251,264,275,288,299,312,323,336], datum.value)]",
 "title": null, "grid": false, "tickSize": 4, "labelPadding": 2, "labelFontSize": 11, "labelColor": "#111", "labelFlush": false, "labelOverlap": false, "domainColor": "#555", "tickColor": "#555"}},
"y": {"field": "p", "type": "quantitative", "scale": {"domain": [1.21449, 1.28191], "nice": false, "zero": false},
 "axis": {"orient": "right", "values": [1.215,1.22,1.225,1.23,1.235,1.24,1.245,1.25,1.255,1.26,1.265,1.27,1.275,1.28], "format": ".5f", "title": null, "grid": false, "tickSize": 5, "labelPadding": 2, "labelFontSize": 11, "labelColor": "#111", "domainColor": "#555", "tickColor": "#555"}}
},
"layer": [
{"data": {"name": "slow"}, "mark": {"type": "line", "stroke": "#c890d0", "strokeWidth": 1, "strokeDash": [5, 3]}},
{"data": {"name": "fast"}, "mark": {"type": "line", "stroke": "#8fb2ff", "strokeWidth": 1, "strokeDash": [4, 3]}},
{"data": {"name": "ol"}, "mark": {"type": "line", "stroke": "#ffa566", "strokeWidth": 1.2, "strokeDash": [8, 5]}, "encoding": {"detail": {"field": "s"}}},
{"data": {"name": "tl"}, "transform": [{"filter": "datum.s=='gd'"}], "mark": {"type": "line", "stroke": "#1f8c1f", "strokeWidth": 3, "strokeDash": [12, 6]}},
{"data": {"values": [{"i": 201.15, "p": 1.21449, "p2": 1.28191}]}, "mark": {"type": "rule", "stroke": "#2a2a2a", "strokeWidth": 1}, "encoding": {"y2": {"field": "p2"}}},
{"data": {"values": [{"k": "f", "i": 321.59, "p": 1.23796, "p2": 1.26737}, {"k": "m", "i": 256.05, "p": 1.23796, "p2": 1.26737}]}, "mark": {"type": "rule", "strokeWidth": 1}, "encoding": {"y2": {"field": "p2"}, "color": {"condition": {"test": "datum.k=='f'", "value": "#333333"}, "value": "#8a8a8a"}}},
{"data": {"values": [{"i": 319.5, "i2": 330, "p": 1.26737}, {"i": 319.5, "i2": 323.7, "p": 1.23796}, {"i": 254.4, "i2": 258, "p": 1.26737}, {"i": 254.4, "i2": 258, "p": 1.23796}, {"i": 201.15, "i2": 208, "p": 1.26591}]}, "mark": {"type": "rule", "stroke": "#555555", "strokeWidth": 1}, "encoding": {"x2": {"field": "i2"}}},
{"data": {"name": "fib"}, "mark": {"type": "rule", "stroke": "#333333", "strokeWidth": 1}, "encoding": {"x": {"field": "i0", "type": "quantitative"}, "x2": {"field": "i2"}}},
{"data": {"name": "mt"}, "mark": {"type": "rule", "stroke": "#555555", "strokeWidth": 1, "clip": false}, "encoding": {"x2": {"field": "i2"}}},
{"data": {"name": "bars"}, "mark": {"type": "rule", "stroke": "#000000", "strokeWidth": 1},
 "encoding": {"y": {"field": "l", "type": "quantitative", "scale": {"domain": [1.21449, 1.28191], "nice": false, "zero": false}, "axis": {"orient": "right", "values": [1.215,1.22,1.225,1.23,1.235,1.24,1.245,1.25,1.255,1.26,1.265,1.27,1.275,1.28], "format": ".5f", "title": null, "grid": false, "tickSize": 5, "labelPadding": 2, "labelFontSize": 11, "labelColor": "#111", "domainColor": "#555", "tickColor": "#555"}}, "y2": {"field": "h"}}},
{"data": {"name": "bars"}, "mark": {"type": "bar", "size": 3, "stroke": "#000000", "strokeWidth": 0.8},
 "encoding": {"y": {"field": "o", "type": "quantitative", "scale": {"domain": [1.21449, 1.28191], "nice": false, "zero": false}, "axis": {"orient": "right", "values": [1.215,1.22,1.225,1.23,1.235,1.24,1.245,1.25,1.255,1.26,1.265,1.27,1.275,1.28], "format": ".5f", "title": null, "grid": false, "tickSize": 5, "labelPadding": 2, "labelFontSize": 11, "labelColor": "#111", "domainColor": "#555", "tickColor": "#555"}}, "y2": {"field": "c"},
 "fill": {"condition": {"test": "datum.c >= datum.o", "value": "#ffffff"}, "value": "#000000"}}},
{"data": {"name": "tl"}, "transform": [{"filter": "datum.s=='r1' || datum.s=='r2'"}], "mark": {"type": "line", "stroke": "#ff1f1f", "strokeWidth": 3}, "encoding": {"detail": {"field": "s"}}},
{"data": {"name": "tl"}, "transform": [{"filter": "datum.s=='gs'"}], "mark": {"type": "line", "stroke": "#2e9960", "strokeWidth": 2.5}},
{"data": {"name": "tri"}, "transform": [{"filter": "datum.d=='up'"}], "mark": {"type": "point", "shape": "M-1,0.6L1,0.6L0,-0.6Z", "size": 144, "filled": true, "fill": "#1f8f1f", "stroke": "#173517", "strokeWidth": 0.6, "opacity": 1}},
{"data": {"name": "tri"}, "transform": [{"filter": "datum.d=='dn'"}], "mark": {"type": "point", "shape": "M-1,-0.6L1,-0.6L0,0.6Z", "size": 144, "filled": true, "fill": "#8b1515", "stroke": "#3a0a0a", "strokeWidth": 0.6, "opacity": 1}},
{"data": {"values": [{"d": "up", "i": 321.59, "p": 1.2668}, {"d": "dn", "i": 321.59, "p": 1.2385}, {"d": "up", "i": 256.05, "p": 1.2668}]}, "mark": {"type": "point", "size": 100, "filled": true, "fill": "#222222", "opacity": 1},
 "encoding": {"shape": {"condition": {"test": "datum.d=='up'", "value": "M-0.5,1L0.5,1L0,-1Z"}, "value": "M-0.5,-1L0.5,-1L0,1Z"}}},
{"data": {"name": "lab"}, "transform": [{"filter": "datum.k=='g'"}], "mark": {"type": "text", "fontSize": 27, "color": "#808080"}, "encoding": {"text": {"field": "t"}}},
{"data": {"name": "lab"}, "transform": [{"filter": "datum.k=='r'"}], "mark": {"type": "text", "fontSize": 23, "color": "#8b1a1a"}, "encoding": {"text": {"field": "t"}}},
{"data": {"name": "lab"}, "transform": [{"filter": "datum.k=='o'"}], "mark": {"type": "text", "fontSize": 25, "color": "#ff7420"}, "encoding": {"text": {"field": "t"}}},
{"data": {"name": "lab"}, "transform": [{"filter": "datum.k=='p'"}], "mark": {"type": "point", "shape": "circle", "size": 530, "filled": false, "stroke": "#c8a8f5", "strokeWidth": 1, "opacity": 1}},
{"data": {"name": "lab"}, "transform": [{"filter": "datum.k=='p'"}], "mark": {"type": "text", "fontSize": 20, "color": "#b48cf0"}, "encoding": {"text": {"field": "t"}}},
{"data": {"name": "lab"}, "transform": [{"filter": "datum.k=='b'"}], "mark": {"type": "point", "shape": "circle", "size": 880, "filled": false, "stroke": "#2a2aff", "strokeWidth": 1, "opacity": 1}},
{"data": {"name": "lab"}, "transform": [{"filter": "datum.k=='b'"}], "mark": {"type": "text", "fontSize": 26, "color": "#0e0ed0"}, "encoding": {"text": {"field": "t"}}},
{"data": {"name": "lab"}, "transform": [{"filter": "datum.k=='m'"}], "mark": {"type": "text", "fontSize": 20, "color": "#ff00ff"}, "encoding": {"text": {"field": "t"}}},
{"data": {"name": "lab"}, "transform": [{"filter": "datum.k=='G'"}], "mark": {"type": "text", "fontSize": 28, "color": "#21dd21"}, "encoding": {"text": {"field": "t"}}},
{"data": {"name": "fib"}, "mark": {"type": "point", "shape": "M-1,-0.154H1V0.154H-1Z", "size": 6084, "filled": true, "stroke": "#555555", "strokeWidth": 1, "opacity": 1},
 "encoding": {"fill": {"condition": [{"test": "datum.p==1.25614", "value": "#c8efbf"}, {"test": "datum.p==1.25267", "value": "#bcc5f3"}], "value": "#ffffff"}}},
{"data": {"name": "fib"}, "mark": {"type": "text", "fontSize": 9.5, "color": "#222222"}, "encoding": {"text": {"field": "t"}}},
{"data": {"values": [{"t": "50.0%(1.26591)", "i": 215.1, "p": 1.26596}]}, "mark": {"type": "point", "shape": "M-1,-0.16H1V0.16H-1Z", "size": 5625, "filled": true, "fill": "#ffffff", "stroke": "#555555", "strokeWidth": 1, "opacity": 1}},
{"data": {"values": [{"t": "50.0%(1.26591)", "i": 215.1, "p": 1.26596}]}, "mark": {"type": "text", "fontSize": 9.5, "color": "#222222"}, "encoding": {"text": {"field": "t"}}},
{"data": {"values": [{"t": "0.02941", "i": 256.3, "p": 1.25275}]}, "mark": {"type": "point", "shape": "M-1,-0.3H1V0.3H-1Z", "size": 1600, "filled": true, "fill": "#ffffff", "stroke": "#777777", "strokeWidth": 1, "opacity": 1}},
{"data": {"values": [{"t": "0.02941", "i": 256.3, "p": 1.25275}]}, "mark": {"type": "text", "fontSize": 10, "color": "#555555"}, "encoding": {"text": {"field": "t"}}},
{"data": {"values": [{"t": "1.26737", "i": 257.6, "p": 1.26674}, {"t": "1.23796", "i": 257.6, "p": 1.23888}]}, "mark": {"type": "text", "align": "left", "fontSize": 9, "color": "#666666"}, "encoding": {"text": {"field": "t"}}},
{"data": {"values": [{"t": "4 vs 3", "i": 219.3, "p": 1.26439}, {"t": "2 vs 1", "i": 339.1, "p": 1.24759}]}, "mark": {"type": "text", "fontSize": 11, "fontWeight": "bold", "color": "#111111"}, "encoding": {"text": {"field": "t"}}},
{"data": {"name": "tags"}, "transform": [{"filter": "datum.z==0"}], "mark": {"type": "point", "shape": "M-1,0L-0.82,-0.23H1V0.23H-0.82Z", "size": 2401, "filled": true, "fill": "#ffffff", "stroke": "#8fc8e8", "strokeWidth": 1, "opacity": 1, "clip": false}},
{"data": {"name": "tags"}, "transform": [{"filter": "datum.z==0"}], "mark": {"type": "text", "fontSize": 11, "color": "#111111", "clip": false}, "encoding": {"x": {"field": "it", "type": "quantitative"}, "text": {"field": "t"}}},
{"data": {"name": "tags"}, "transform": [{"filter": "datum.z==1"}], "mark": {"type": "point", "shape": "M-1,0L-0.82,-0.23H1V0.23H-0.82Z", "size": 2401, "filled": true, "stroke": "#444444", "strokeWidth": 1, "opacity": 1, "clip": false},
 "encoding": {"fill": {"condition": [{"test": "datum.p==1.23999", "value": "#b3bcf0"}, {"test": "datum.p==1.23831", "value": "#f3c4c4"}], "value": "#ffffff"}}},
{"data": {"name": "tags"}, "transform": [{"filter": "datum.z==1"}], "mark": {"type": "text", "fontSize": 11, "color": "#111111", "clip": false}, "encoding": {"x": {"field": "it", "type": "quantitative"}, "text": {"field": "t"}}},
{"data": {"values": [{"t": "GBP/USD - 1 hour", "i": 1.8, "p": 1.2807}]}, "mark": {"type": "text", "align": "left", "fontSize": 12, "fontWeight": "bold", "color": "#1a1a1a"}, "encoding": {"text": {"field": "t"}}},
{"data": {"values": [{"t": "Wave Analysis", "i": 2.3, "p": 1.2791}]}, "mark": {"type": "text", "align": "left", "fontSize": 10.5, "color": "#555555"}, "encoding": {"text": {"field": "t"}}},
{"data": {"values": [{"t": "MotiveWave", "i": 9.3, "p": 1.2154}]}, "mark": {"type": "text", "align": "left", "fontSize": 10, "color": "#222222"}, "encoding": {"text": {"field": "t"}}},
{"data": {"values": [{"t": "⇔⇨⇦", "i": 1.0, "p": 1.2154}, {"t": "⇨⇩⇧", "i": 335.2, "p": 1.2809}, {"t": "⇧⇩", "i": 337.5, "p": 1.2153}]}, "mark": {"type": "text", "align": "left", "font": "DejaVu Sans", "fontSize": 10, "color": "#999999"}, "encoding": {"text": {"field": "t"}}}
]
},
{
"width": 1609,
"height": 76,
"encoding": {
"x": {"field": "i", "type": "quantitative", "scale": {"domain": [0.2, 345], "nice": false, "zero": false}, "axis": null},
"y": {"field": "ao", "type": "quantitative", "scale": {"domain": [-0.00858, 0.01338], "nice": false, "zero": false},
 "axis": {"orient": "right", "values": [0.005, -0.005], "format": ".5f", "title": null, "grid": false, "tickSize": 5, "labelPadding": 2, "labelFontSize": 11, "labelColor": "#111", "domainColor": "#555", "tickColor": "#555"}}
},
"layer": [
{"data": {"name": "bars"}, "mark": {"type": "bar", "size": 3}, "encoding": {"y2": {"datum": 0}, "color": {"condition": {"test": "datum.u==1", "value": "#3535f2"}, "value": "#a83232"}}},
{"data": {"values": [{"i": 0.2, "i2": 345, "ao": 0}]}, "mark": {"type": "rule", "stroke": "#222222", "strokeWidth": 1, "strokeDash": [2, 2]}, "encoding": {"x2": {"field": "i2"}}},
{"data": {"values": [{"t": "Awesome Osc(34,5)", "i": 1.9, "ao": 0.0093}]}, "mark": {"type": "text", "align": "left", "fontSize": 11, "fontWeight": "bold", "color": "#111111"}, "encoding": {"text": {"field": "t"}}},
{"data": {"values": [{"t": "-0.00334", "i": 350.1, "ao": -0.00334}]}, "mark": {"type": "point", "shape": "M-1,0L-0.85,-0.2H1V0.2H-0.85Z", "size": 2916, "filled": true, "fill": "#ffffff", "stroke": "#444444", "strokeWidth": 1, "opacity": 1, "clip": false}},
{"data": {"values": [{"t": "-0.00334", "i": 350.8, "ao": -0.00334}]}, "mark": {"type": "text", "fontSize": 11, "color": "#111111", "clip": false}, "encoding": {"text": {"field": "t"}}},
{"data": {"values": [{"t": "⇧⊠", "i": 337.8, "ao": 0.0108}]}, "mark": {"type": "text", "align": "left", "font": "DejaVu Sans", "fontSize": 10, "color": "#999999"}, "encoding": {"text": {"field": "t"}}}
]
}
]
}
